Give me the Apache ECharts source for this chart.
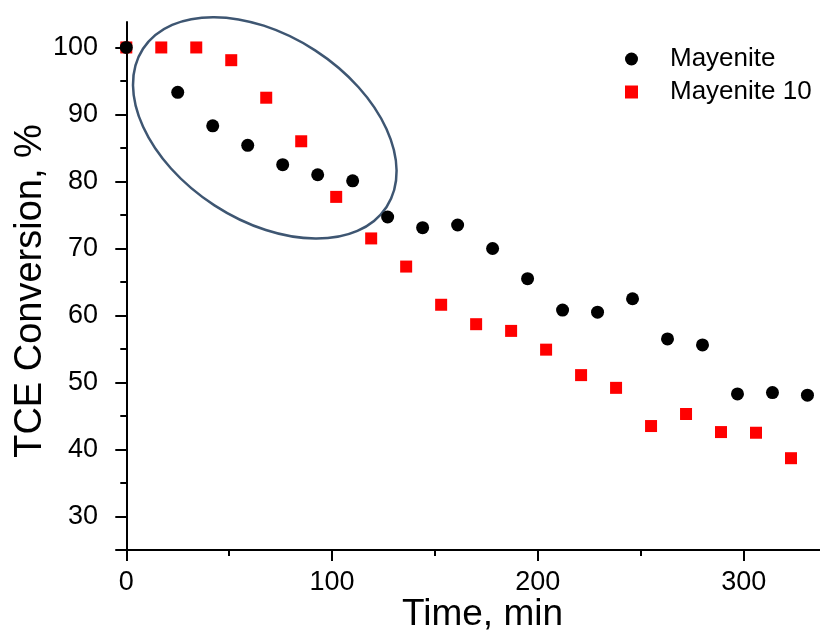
<!DOCTYPE html>
<html><head><meta charset="utf-8">
<script src="https://cdn.jsdelivr.net/npm/echarts@6/dist/echarts.min.js"></script>
<style>html,body{margin:0;padding:0;background:#fff}#c{width:820px;height:635px}</style>
</head><body><div id="c"></div>
<script>
const seriesNames = ['Mayenite', 'Mayenite 10'];
const timeMayenite = [0,25,42,59,76,93,110,127,144,161,178,195,212,229,246,263,280,297,314,331];
const convMayenite = [100,93.3,88.3,85.4,82.5,81.0,80.1,74.7,73.1,73.5,70.0,65.5,60.8,60.5,62.5,56.5,55.6,48.3,48.5,48.1];
const timeMayenite10 = [0,17,34,51,68,85,102,119,136,153,170,187,204,221,238,255,272,289,306,323];
const convMayenite10 = [100,100,100,98.1,92.5,86.0,77.7,71.5,67.3,61.6,58.7,57.7,54.9,51.1,49.2,43.5,45.3,42.6,42.5,38.7];
const xMajorTicks = [0,100,200,300];
const xMinorTicks = [50,150,250];
const yMajorTicks = [30,40,50,60,70,80,90,100];
const yMinorTicks = [25,35,45,55,65,75,85,95];
const xTitle = 'Time, min';
const yTitle = 'TCE Conversion, %';
const ellipseCenter = [67.3, 88.0];

const FONT = 'Liberation Sans, Arial, sans-serif';
const X_MIN = -5, X_MAX = 337.1, Y_MIN = 25, Y_MAX = 103.8;

function zip(a, b) { return a.map((v, i) => [v, b[i]]); }

const chart = echarts.init(document.getElementById('c'), null, {renderer: 'canvas'});
const axisLine = {show: true, lineStyle: {color: '#000', width: 2}};
chart.setOption({
  animation: false,
  backgroundColor: '#fff',
  grid: {left: 116, right: 0, top: 22, bottom: 85, containLabel: false, outerBoundsMode: 'none'},
  legend: {
    orient: 'vertical', left: 625, top: 46, padding: 0, itemWidth: 13, itemHeight: 13, itemGap: 7,
    symbolKeepAspect: true,
    data: [
      {name: seriesNames[0], icon: 'circle'},
      {name: seriesNames[1], icon: 'rect'}
    ],
    textStyle: {fontSize: 26, fontFamily: FONT, color: '#000', lineHeight: 26, padding: [0, 0, 0, 27]}
  },
  xAxis: [{
    type: 'value', min: X_MIN, max: X_MAX, position: 'bottom',
    axisLine: axisLine,
    axisTick: {show: true, customValues: xMajorTicks, length: 11, lineStyle: {color: '#000', width: 2}},
    axisLabel: {customValues: xMajorTicks, fontSize: 27, fontFamily: FONT, color: '#000', margin: 19},
    splitLine: {show: false},
    name: xTitle, nameLocation: 'middle', nameGap: 46, nameMoveOverlap: false,
    nameTextStyle: {fontSize: 37, fontFamily: FONT, color: '#000', padding: [0, 0, 0, 29]}
  }, {
    type: 'value', min: X_MIN, max: X_MAX, position: 'bottom',
    axisLine: {show: false},
    axisTick: {show: true, customValues: xMinorTicks, length: 6, lineStyle: {color: '#000', width: 2}},
    axisLabel: {show: false}, splitLine: {show: false}
  }],
  yAxis: [{
    type: 'value', min: Y_MIN, max: Y_MAX, position: 'left',
    axisLine: axisLine,
    axisTick: {show: true, customValues: yMajorTicks, length: 11, lineStyle: {color: '#000', width: 2}},
    axisLabel: {customValues: yMajorTicks, fontSize: 27, fontFamily: FONT, color: '#000', margin: 18},
    splitLine: {show: false},
    name: yTitle, nameLocation: 'middle', nameGap: 66, nameRotate: 90, nameMoveOverlap: false,
    nameTextStyle: {fontSize: 38, fontFamily: FONT, color: '#000', padding: [0, 10, 0, 0]}
  }, {
    type: 'value', min: Y_MIN, max: Y_MAX, position: 'left',
    axisLine: {show: false},
    axisTick: {show: true, customValues: yMinorTicks, length: 6, lineStyle: {color: '#000', width: 2}},
    axisLabel: {show: false}, splitLine: {show: false}
  }],
  series: [{
    name: seriesNames[0], type: 'scatter', xAxisIndex: 0, yAxisIndex: 0,
    data: zip(timeMayenite, convMayenite),
    symbol: 'circle', symbolSize: 13, itemStyle: {color: '#000', opacity: 1}, z: 3,
    emphasis: {disabled: true}
  }, {
    name: seriesNames[1], type: 'scatter', xAxisIndex: 0, yAxisIndex: 0,
    data: zip(timeMayenite10, convMayenite10),
    symbol: 'rect', symbolSize: 12, itemStyle: {color: '#ff0000', opacity: 1}, z: 2,
    emphasis: {disabled: true}
  }]
});

const c = chart.convertToPixel({gridIndex: 0}, ellipseCenter);
chart.setOption({
  graphic: [{
    type: 'ellipse', x: c[0], y: c[1], rotation: -33 * Math.PI / 180,
    shape: {cx: 0, cy: 0, rx: 145.2, ry: 92.4},
    style: {fill: null, stroke: '#3e5672', lineWidth: 2.5}, z: 1, silent: true
  }]
});
</script>
</body></html>
